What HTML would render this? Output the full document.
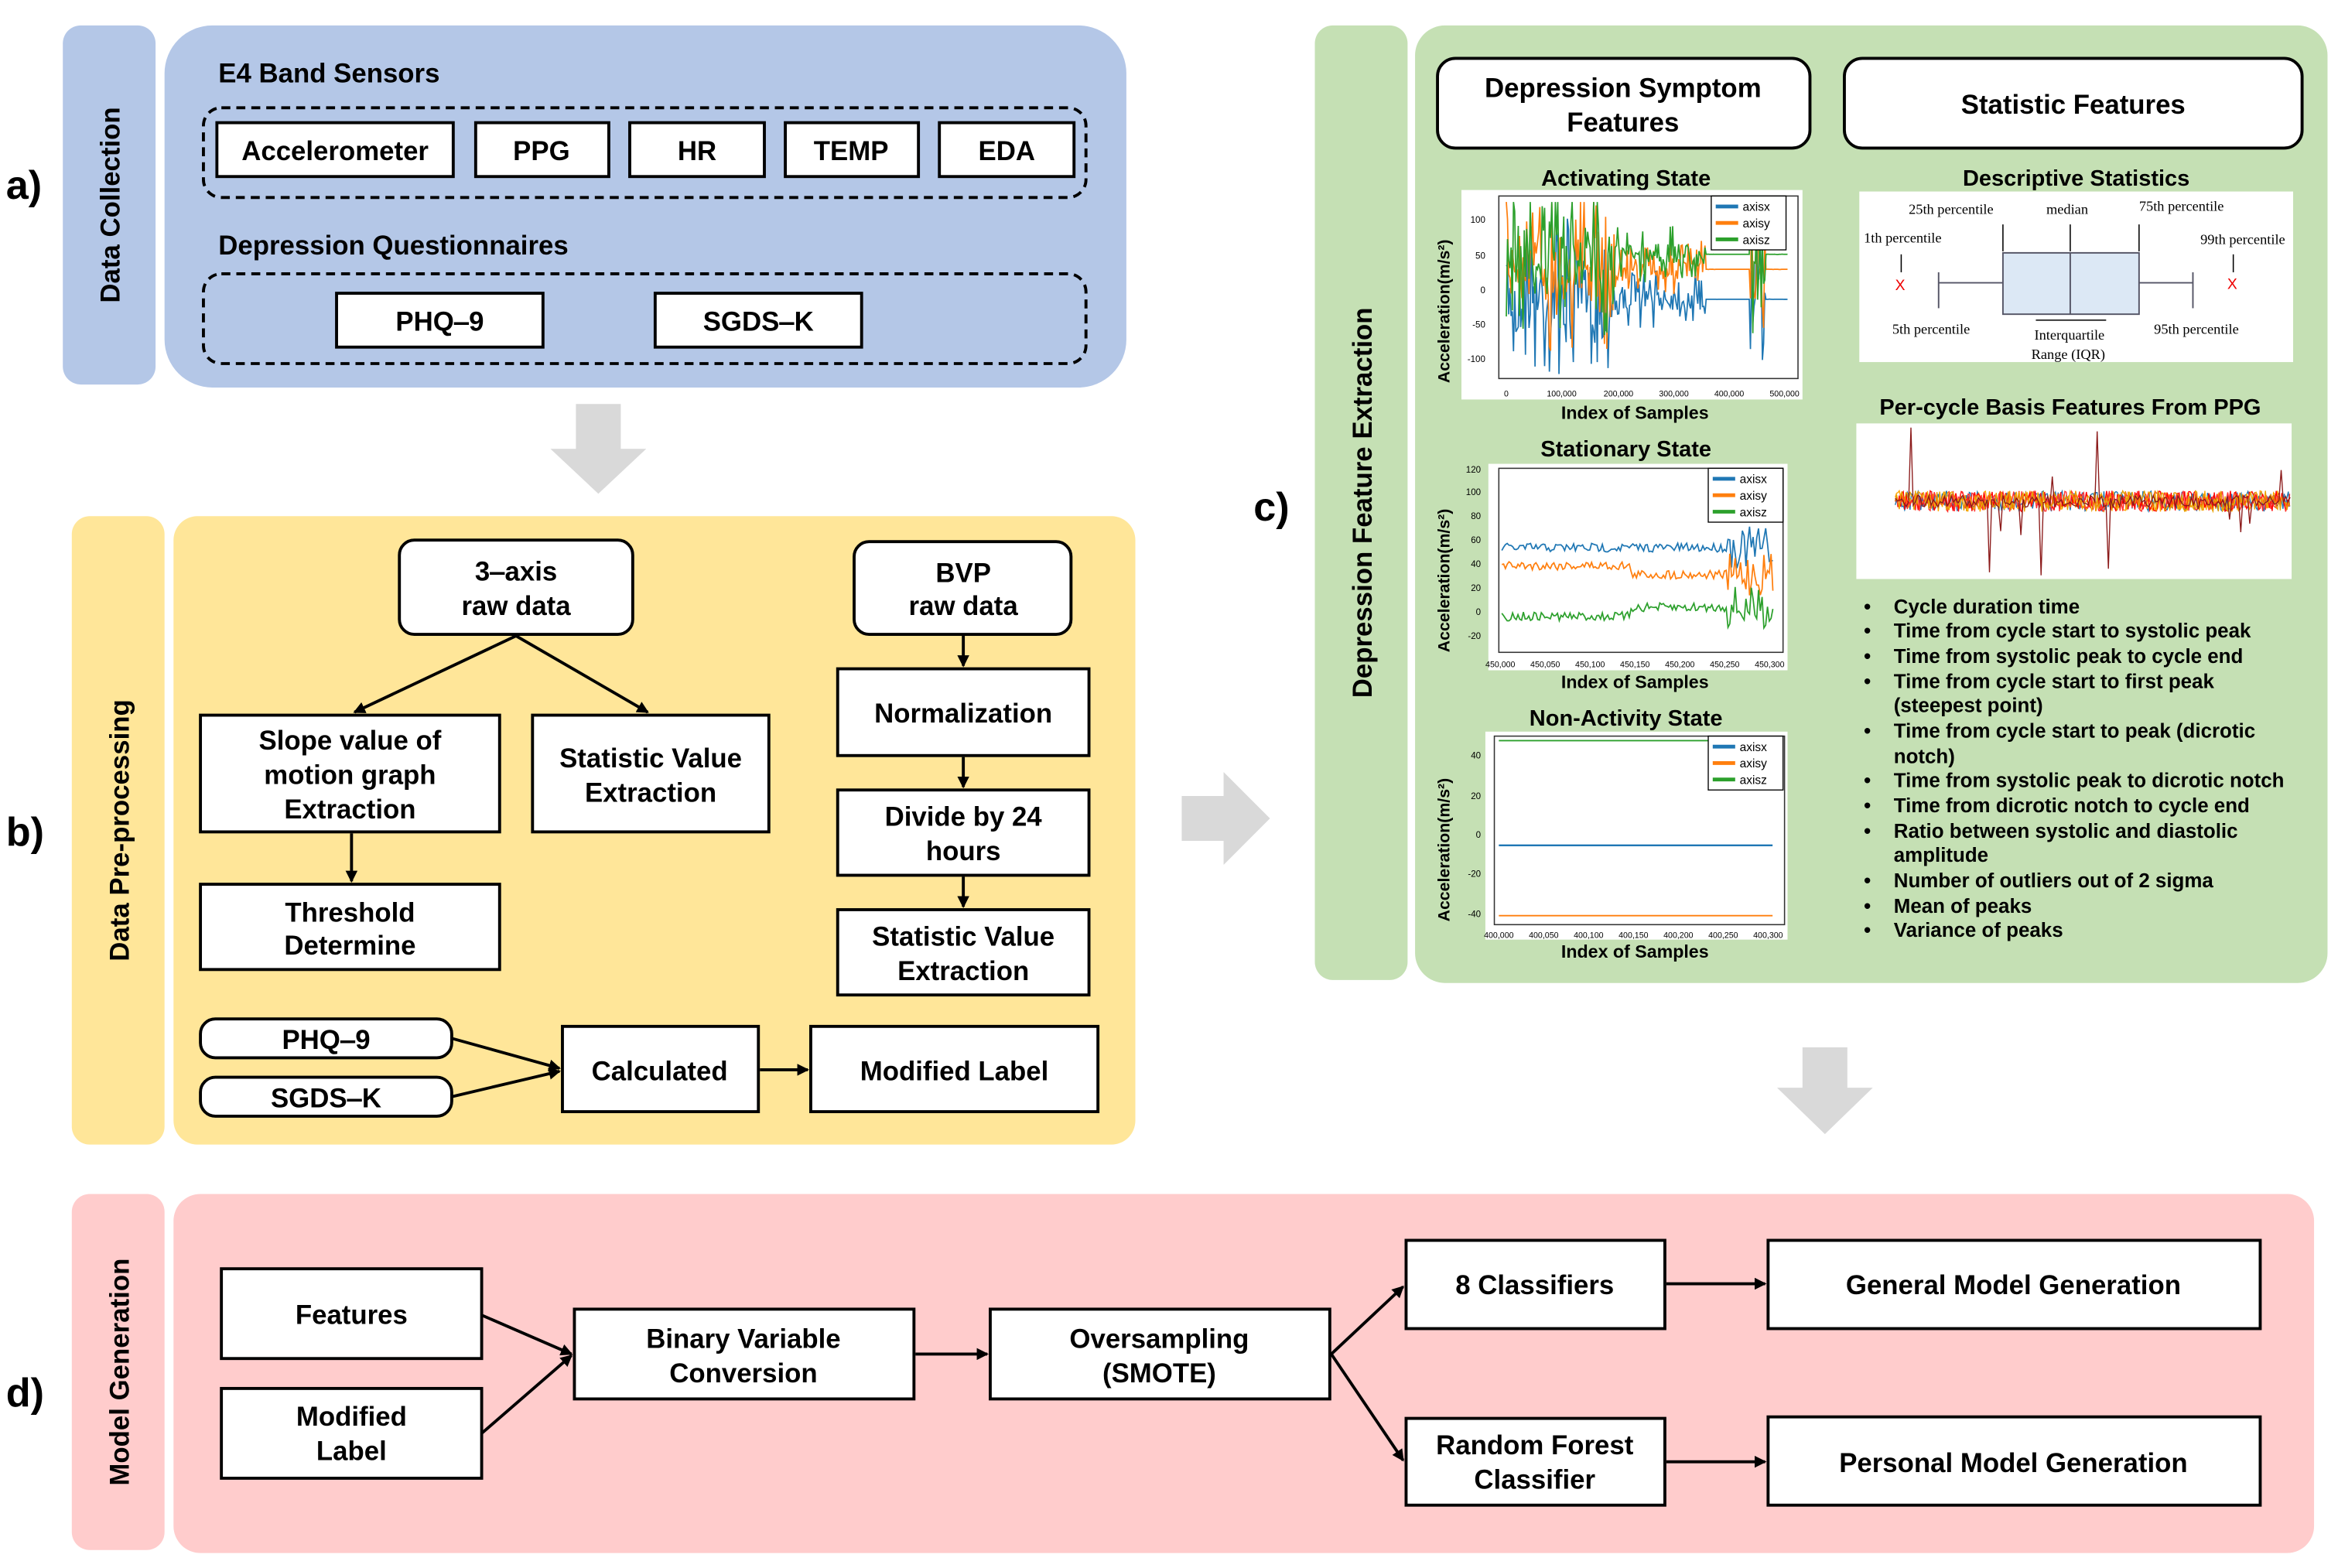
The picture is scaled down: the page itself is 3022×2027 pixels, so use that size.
<!DOCTYPE html>
<html><head><meta charset="utf-8"><style>
html,body{margin:0;padding:0;background:#fff;}
svg{display:block;}
text{font-family:"Liberation Sans",Arial,sans-serif;fill:#000;}
.b{font-weight:bold;}
.serif text{font-family:"Liberation Serif",serif;}
</style></head><body>
<svg id="s" xmlns="http://www.w3.org/2000/svg" width="3022" height="2027" viewBox="0 0 1563 1048" preserveAspectRatio="none">
<defs>
<marker id="ah" markerWidth="8" markerHeight="8" refX="7" refY="4" orient="auto" markerUnits="userSpaceOnUse"><path d="M0,0 L8,4 L0,8 z" fill="#000"/></marker>
</defs>
<g font-size="18" class="b">
<text x="4" y="133" font-size="27" class="b">a)</text>
<text x="4" y="565" font-size="27" class="b">b)</text>
<text x="838" y="348" font-size="27" class="b">c)</text>
<text x="4" y="940" font-size="27" class="b">d)</text>
</g>

<!-- a) -->
<rect x="42" y="17" width="62" height="240" rx="12" fill="#b4c7e7"/>
<rect x="110" y="17" width="643" height="242" rx="32" fill="#b4c7e7"/>
<text transform="translate(80,137) rotate(-90)" text-anchor="middle" font-size="18" class="b">Data Collection</text>
<text x="146" y="55" font-size="18" class="b">E4 Band Sensors</text>
<rect x="136" y="72" width="590" height="60" rx="12" fill="none" stroke="#000" stroke-width="2" stroke-dasharray="6,4"/>
<g fill="#fff" stroke="#000" stroke-width="2">
<rect x="145" y="82" width="158" height="36"/><rect x="318" y="82" width="89" height="36"/><rect x="421" y="82" width="90" height="36"/><rect x="525" y="82" width="89" height="36"/><rect x="628" y="82" width="90" height="36"/>
</g>
<g font-size="18" class="b" text-anchor="middle">
<text x="224" y="107">Accelerometer</text><text x="362" y="107">PPG</text><text x="466" y="107">HR</text><text x="569" y="107">TEMP</text><text x="673" y="107">EDA</text>
</g>
<text x="146" y="170" font-size="18" class="b">Depression Questionnaires</text>
<rect x="136" y="183" width="590" height="60" rx="12" fill="none" stroke="#000" stroke-width="2" stroke-dasharray="6,4"/>
<g fill="#fff" stroke="#000" stroke-width="2"><rect x="225" y="196" width="138" height="36"/><rect x="438" y="196" width="138" height="36"/></g>
<g font-size="18" class="b" text-anchor="middle"><text x="294" y="221">PHQ‒9</text><text x="507" y="221">SGDS‒K</text></g>

<!-- gray arrows -->
<g fill="#d9d9d9">
<path d="M385,270 H415 V300 H432 L400,330 L368,300 H385 Z"/>
<path d="M790,532 H818 V516 L849,547 L818,578 V562 H790 Z"/>
<path d="M1205,700 H1235 V727 H1252 L1220,758 L1188,727 H1205 Z"/>
</g>

<!-- b) -->
<rect x="48" y="345" width="62" height="420" rx="12" fill="#ffe699"/>
<rect x="116" y="345" width="643" height="420" rx="16" fill="#ffe699"/>
<text transform="translate(86,555) rotate(-90)" text-anchor="middle" font-size="18" class="b">Data Pre-processing</text>
<g fill="#fff" stroke="#000" stroke-width="2">
<rect x="267" y="361" width="156" height="63" rx="10"/>
<rect x="571" y="362" width="145" height="62" rx="10"/>
<rect x="134" y="478" width="200" height="78"/>
<rect x="356" y="478" width="158" height="78"/>
<rect x="134" y="591" width="200" height="57"/>
<rect x="560" y="447" width="168" height="58"/>
<rect x="560" y="528" width="168" height="57"/>
<rect x="560" y="608" width="168" height="57"/>
<rect x="134" y="681" width="168" height="26" rx="10"/>
<rect x="134" y="720" width="168" height="26" rx="10"/>
<rect x="376" y="686" width="131" height="57"/>
<rect x="542" y="686" width="192" height="57"/>
</g>
<g stroke="#000" stroke-width="2" fill="none" marker-end="url(#ah)">
<line x1="345" y1="425" x2="237" y2="476"/>
<line x1="345" y1="425" x2="433" y2="476"/>
<line x1="235" y1="557" x2="235" y2="589"/>
<line x1="644" y1="425" x2="644" y2="445"/>
<line x1="644" y1="506" x2="644" y2="526"/>
<line x1="644" y1="586" x2="644" y2="606"/>
<line x1="302" y1="694" x2="374" y2="714"/>
<line x1="302" y1="733" x2="374" y2="716"/>
<line x1="508" y1="715" x2="540" y2="715"/>
</g>
<g font-size="18" class="b" text-anchor="middle">
<text x="345" y="388">3‒axis</text><text x="345" y="411">raw data</text>
<text x="644" y="389">BVP</text><text x="644" y="411">raw data</text>
<text x="234" y="501">Slope value of</text><text x="234" y="524">motion graph</text><text x="234" y="547">Extraction</text>
<text x="435" y="513">Statistic Value</text><text x="435" y="536">Extraction</text>
<text x="234" y="616">Threshold</text><text x="234" y="638">Determine</text>
<text x="644" y="483">Normalization</text>
<text x="644" y="552">Divide by 24</text><text x="644" y="575">hours</text>
<text x="644" y="632">Statistic Value</text><text x="644" y="655">Extraction</text>
<text x="218" y="701">PHQ‒9</text><text x="218" y="740">SGDS‒K</text>
<text x="441" y="722">Calculated</text><text x="638" y="722">Modified Label</text>
</g>

<!-- c) -->
<rect x="879" y="17" width="62" height="638" rx="12" fill="#c5e0b4"/>
<rect x="946" y="17" width="610" height="640" rx="20" fill="#c5e0b4"/>
<text transform="translate(917,336) rotate(-90)" text-anchor="middle" font-size="18" class="b">Depression Feature Extraction</text>
<g fill="#fff" stroke="#000" stroke-width="2"><rect x="961" y="39" width="249" height="60" rx="12"/><rect x="1233" y="39" width="306" height="60" rx="12"/></g>
<g font-size="18" class="b" text-anchor="middle">
<text x="1085" y="65">Depression Symptom</text><text x="1085" y="88">Features</text>
<text x="1386" y="76">Statistic Features</text>
</g>
<g font-size="15" class="b" text-anchor="middle">
<text x="1087" y="124">Activating State</text>
<text x="1087" y="305">Stationary State</text>
<text x="1087" y="485">Non-Activity State</text>
<text x="1388" y="124">Descriptive Statistics</text>
<text x="1384" y="277">Per-cycle Basis Features From PPG</text>
</g>
<g font-size="12" class="b" text-anchor="middle">
<text x="1093" y="280">Index of Samples</text>
<text x="1093" y="460">Index of Samples</text>
<text x="1093" y="640">Index of Samples</text>
</g>
<g font-size="11" class="b" text-anchor="middle">
<text transform="translate(969,208) rotate(-90)">Acceleration(m/s²)</text>
<text transform="translate(969,388) rotate(-90)">Acceleration(m/s²)</text>
<text transform="translate(969,568) rotate(-90)">Acceleration(m/s²)</text>
</g>
<rect x="977" y="127" width="228" height="140" fill="#fff"/>
<rect x="995" y="310" width="200" height="138" fill="#fff"/>
<rect x="993" y="489" width="202" height="139" fill="#fff"/>
<g fill="none" stroke="#333" stroke-width="0.8">
<rect x="1002" y="131" width="200" height="122"/>
<rect x="1002" y="313" width="190" height="123"/>
<rect x="999" y="492" width="194" height="126"/>
</g>
<g id="charts"></g>
<g font-size="6" fill="#333" text-anchor="end">
<text x="993" y="149">100</text><text x="993" y="173">50</text><text x="993" y="196">0</text><text x="993" y="219">-50</text><text x="993" y="242">-100</text>
<text x="990" y="316">120</text><text x="990" y="331">100</text><text x="990" y="347">80</text><text x="990" y="363">60</text><text x="990" y="379">40</text><text x="990" y="395">20</text><text x="990" y="411">0</text><text x="990" y="427">-20</text>
<text x="990" y="507">40</text><text x="990" y="534">20</text><text x="990" y="560">0</text><text x="990" y="586">-20</text><text x="990" y="613">-40</text>
</g>
<g font-size="5.5" fill="#333" text-anchor="middle">
<text x="1007" y="265">0</text><text x="1044" y="265">100,000</text><text x="1082" y="265">200,000</text><text x="1119" y="265">300,000</text><text x="1156" y="265">400,000</text><text x="1193" y="265">500,000</text>
<text x="1003" y="446">450,000</text><text x="1033" y="446">450,050</text><text x="1063" y="446">450,100</text><text x="1093" y="446">450,150</text><text x="1123" y="446">450,200</text><text x="1153" y="446">450,250</text><text x="1183" y="446">450,300</text>
<text x="1002" y="627">400,000</text><text x="1032" y="627">400,050</text><text x="1062" y="627">400,100</text><text x="1092" y="627">400,150</text><text x="1122" y="627">400,200</text><text x="1152" y="627">400,250</text><text x="1182" y="627">400,300</text>
</g>
<g id="legs"></g>

<!-- box plot -->
<rect x="1243" y="128" width="290" height="114" fill="#fff"/>
<g class="serif" font-size="9.5" fill="#222">
<text x="1276" y="143">25th percentile</text>
<text x="1368" y="143">median</text>
<text x="1430" y="141">75th percentile</text>
<text x="1246" y="162">1th percentile</text>
<text x="1471" y="163">99th percentile</text>
<text x="1265" y="223">5th percentile</text>
<text x="1440" y="223">95th percentile</text>
<text x="1360" y="227">Interquartile</text>
<text x="1358" y="240">Range (IQR)</text>
</g>
<rect x="1339" y="169" width="91" height="41" fill="#dce8f5" stroke="#556" stroke-width="1"/>
<line x1="1384" y1="169" x2="1384" y2="210" stroke="#556"/>
<g stroke="#556" stroke-width="1"><line x1="1296" y1="189" x2="1339" y2="189"/><line x1="1430" y1="189" x2="1466" y2="189"/><line x1="1296" y1="182" x2="1296" y2="206"/><line x1="1466" y1="182" x2="1466" y2="206"/></g>
<g stroke="#000" stroke-width="0.8">
<line x1="1339" y1="150" x2="1339" y2="168"/><line x1="1384" y1="150" x2="1384" y2="168"/><line x1="1430" y1="150" x2="1430" y2="168"/><line x1="1271" y1="170" x2="1271" y2="182"/><line x1="1493" y1="170" x2="1493" y2="182"/><line x1="1361" y1="214" x2="1408" y2="214"/>
</g>
<text x="1267" y="194" font-size="10" style="fill:#e00">X</text><text x="1489" y="193" font-size="10" style="fill:#e00">X</text>

<!-- PPG -->
<rect x="1241" y="283" width="291" height="104" fill="#fff"/>
<g id="ppg"></g>

<g font-size="13.4" class="b">
<text x="1246" y="410">•</text><text x="1266" y="410">Cycle duration time</text>
<text x="1246" y="426">•</text><text x="1266" y="426">Time from cycle start to systolic peak</text>
<text x="1246" y="443">•</text><text x="1266" y="443">Time from systolic peak to cycle end</text>
<text x="1246" y="460">•</text><text x="1266" y="460">Time from cycle start to first peak</text>
<text x="1266" y="476">(steepest point)</text>
<text x="1246" y="493">•</text><text x="1266" y="493">Time from cycle start to peak (dicrotic</text>
<text x="1266" y="510">notch)</text>
<text x="1246" y="526">•</text><text x="1266" y="526">Time from systolic peak to dicrotic notch</text>
<text x="1246" y="543">•</text><text x="1266" y="543">Time from dicrotic notch to cycle end</text>
<text x="1246" y="560">•</text><text x="1266" y="560">Ratio between systolic and diastolic</text>
<text x="1266" y="576">amplitude</text>
<text x="1246" y="593">•</text><text x="1266" y="593">Number of outliers out of 2 sigma</text>
<text x="1246" y="610">•</text><text x="1266" y="610">Mean of peaks</text>
<text x="1246" y="626">•</text><text x="1266" y="626">Variance of peaks</text>
</g>

<!-- d) -->
<rect x="48" y="798" width="62" height="238" rx="12" fill="#ffcccc"/>
<rect x="116" y="798" width="1431" height="240" rx="18" fill="#ffcccc"/>
<text transform="translate(86,917) rotate(-90)" text-anchor="middle" font-size="18" class="b">Model Generation</text>
<g fill="#fff" stroke="#000" stroke-width="2">
<rect x="148" y="848" width="174" height="60"/><rect x="148" y="928" width="174" height="60"/>
<rect x="384" y="875" width="227" height="60"/><rect x="662" y="875" width="227" height="60"/>
<rect x="940" y="829" width="173" height="59"/><rect x="940" y="948" width="173" height="58"/>
<rect x="1182" y="829" width="329" height="59"/><rect x="1182" y="947" width="329" height="59"/>
</g>
<g stroke="#000" stroke-width="2" fill="none" marker-end="url(#ah)">
<line x1="322" y1="879" x2="382" y2="905"/><line x1="322" y1="958" x2="382" y2="906"/>
<line x1="612" y1="905" x2="660" y2="905"/>
<line x1="890" y1="905" x2="938" y2="860"/><line x1="890" y1="905" x2="938" y2="976"/>
<line x1="1114" y1="858" x2="1180" y2="858"/><line x1="1114" y1="977" x2="1180" y2="977"/>
</g>
<g font-size="18" class="b" text-anchor="middle">
<text x="235" y="885">Features</text><text x="235" y="953">Modified</text><text x="235" y="976">Label</text>
<text x="497" y="901">Binary Variable</text><text x="497" y="924">Conversion</text>
<text x="775" y="901">Oversampling</text><text x="775" y="924">(SMOTE)</text>
<text x="1026" y="865">8 Classifiers</text>
<text x="1026" y="972">Random Forest</text><text x="1026" y="995">Classifier</text>
<text x="1346" y="865">General Model Generation</text><text x="1346" y="984">Personal Model Generation</text>
</g>
</svg>
<script>
(function(){
var seed=7;function r(){seed=(seed*16807)%2147483647;return seed/2147483647;}
var NS="http://www.w3.org/2000/svg";
function pl(g,pts,col,w){var p=document.createElementNS(NS,"polyline");p.setAttribute("points",pts.map(function(a){return a[0].toFixed(1)+","+a[1].toFixed(1)}).join(" "));p.setAttribute("fill","none");p.setAttribute("stroke",col);p.setAttribute("stroke-width",w||0.8);g.appendChild(p);}
var c=document.getElementById("charts");
var B="#1f77b4",O="#ff7f0e",G="#2ca02c";
function act(col,base,amp){var pts=[];for(var x=1007;x<=1195;x+=0.8){var a;if(x<1080)a=amp;else if(x<1140)a=amp*0.35;else if(x<1170&&x>1148)a=0.02;else if(x>1160&&x<1180)a=amp;else a=0.1;var y=base+(r()-0.5)*2*a*(r()<0.5?1:0.4);y=Math.max(135,Math.min(250,y));pts.push([x,y]);}pl(c,pts,col,0.9);}
act(B,200,55);act(O,180,55);act(G,170,55);
function st(col,base){var pts=[];for(var x=1004;x<=1186;x+=1.2){var a=x>1155?14:3;var y=base+(r()-0.5)*2*a+(x>1090&&col==G?-6:0)+(x>1090&&col==O?6:0);pts.push([x,y]);}pl(c,pts,col,0.9);}
st(B,366);st(O,378);st(G,412);
pl(c,[[1002,495],[1185,495]],G,1);pl(c,[[1002,565],[1185,565]],B,1.2);pl(c,[[1002,612],[1185,612]],O,1);
var L=document.getElementById("legs");
[[1144,131],[1142,313],[1142,492]].forEach(function(p){var R=document.createElementNS(NS,"rect");R.setAttribute("x",p[0]);R.setAttribute("y",p[1]);R.setAttribute("width",50);R.setAttribute("height",36);R.setAttribute("fill","#fff");R.setAttribute("stroke","#000");R.setAttribute("stroke-width","0.7");L.appendChild(R);
[[B,"axisx"],[O,"axisy"],[G,"axisz"]].forEach(function(q,i){var yy=p[1]+7+i*11;pl(L,[[p[0]+3,yy],[p[0]+18,yy]],q[0],2.5);var t=document.createElementNS(NS,"text");t.setAttribute("x",p[0]+21);t.setAttribute("y",yy+3);t.setAttribute("font-size","8");t.textContent=q[1];L.appendChild(t);});});
var P=document.getElementById("ppg");
["#1f77b4","#ffa500","#ff0000","#ff3030","#e8a000"].forEach(function(col){var pts=[];for(var x=1267;x<=1531;x+=0.9){pts.push([x,335+(r()-0.5)*14]);}pl(P,pts,col,0.7);});
var pts=[];for(var x=1267;x<=1531;x+=1.5){var y=335+(r()-0.5)*8;if(r()<0.08)y=335+(r()-0.5)*110;pts.push([x,Math.max(285,Math.min(385,y))]);}pl(P,pts,"#8b1a1a",0.7);
})();
</script>
</body></html>
